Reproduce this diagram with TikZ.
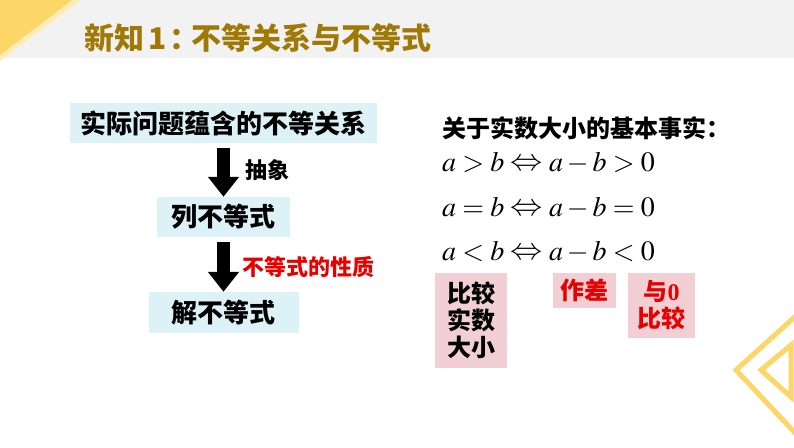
\documentclass[tikz,border=0pt]{standalone}
\usepackage[no-math]{fontspec}
\usepackage{mathptmx}
\newfontfamily\cjk{Noto Sans CJK SC}
\newfontfamily\tms{Liberation Serif}
\usetikzlibrary{arrows.meta}
\definecolor{hdrgray}{RGB}{242,242,242}
\definecolor{gold}{RGB}{252,214,102}
\definecolor{goldlight}{RGB}{255,236,185}
\definecolor{titlec}{RGB}{160,120,5}
\definecolor{cyanbox}{RGB}{221,242,247}
\definecolor{pinkbox}{RGB}{242,207,212}
\definecolor{redtxt}{RGB}{230,0,0}
\newcommand{\bigiff}{\mathrel{\raisebox{0.5pt}{\scalebox{1.15}[1.1]{$\Leftrightarrow$}}}}
\begin{document}
\begin{tikzpicture}[x=1pt,y=-1pt,
  flowbox/.style={fill=cyanbox, inner sep=0pt, minimum height=40pt, font=\cjk\bfseries\fontsize{26}{30}\selectfont, text=black},
  pinkb/.style={fill=pinkbox, inner sep=0pt, align=center, font=\cjk\bfseries\fontsize{24}{27}\selectfont},
  blockarrow/.style={line width=13pt, -{Triangle[width=30pt,length=20pt]}, shorten <=5pt},
  steplabel/.style={anchor=west, inner sep=0pt, font=\cjk\bfseries\fontsize{22}{26}\selectfont},
  mathline/.style={anchor=west, inner sep=0pt, font=\fontsize{28}{32}\selectfont},
  chevron/.style={draw=gold, line width=5pt, line join=miter}]
\fill[white] (0,0) rectangle (794,447);
\useasboundingbox (0,0) rectangle (794,447);
% header
\fill[hdrgray] (0,0) rectangle (794,58);
\fill[goldlight] (0,0) -- (81,0) -- (0,61) -- cycle;
\fill[gold] (0,0) -- (72,0) -- (0,55) -- cycle;
\node[anchor=west, inner sep=0pt, text=titlec, font=\cjk\bfseries\fontsize{30}{34}\selectfont] (title) at (84,38) {新知\hspace{4pt}1\hspace{3pt}：\hspace{-8pt}不等关系与不等式};
% flow
\node[flowbox, minimum width=307pt] (b1) at (223.5,123) {实际问题蕴含的不等关系};
\node[flowbox, minimum width=133pt] (b2) at (223.5,217) {列不等式};
\node[flowbox, minimum width=150pt, minimum height=41pt] (b3) at (223.5,312.5) {解不等式};
\draw[blockarrow] (b1.south) -- (b2.north);
\draw[blockarrow] (b2.south) -- (b3.north);
\node[steplabel] (l1) at (245,170) {抽象};
\node[steplabel, text=redtxt] (l2) at (242,267) {不等式的性质};
% facts
\node[anchor=west, inner sep=0pt, font=\cjk\bfseries\fontsize{24}{28}\selectfont] (facts) at (442,128) {关于实数大小的基本事实：};
\node[mathline] (m1) at (442,163) {$a>b\bigiff a-b>0$};
\node[mathline] (m2) at (442,208) {$a=b\bigiff a-b=0$};
\node[mathline] (m3) at (442,252) {$a<b\bigiff a-b<0$};
\node[pinkb, minimum width=72pt, minimum height=95pt] (p1) at (471,320.5) {比较\\实数\\大小};
\node[pinkb, text=redtxt, minimum width=63pt, minimum height=35pt] (p2) at (584.5,290.5) {作差};
\node[pinkb, text=redtxt, minimum width=67pt, minimum height=65pt] (p3) at (661.5,305.5) {与{\tms\bfseries 0}\\比较};
% decoration
\draw[chevron] (798,314) -- (736,370) -- (798,436);
\draw[chevron] (791,345) -- (761,370) -- (791,397) -- cycle;
\end{tikzpicture}
\end{document}
